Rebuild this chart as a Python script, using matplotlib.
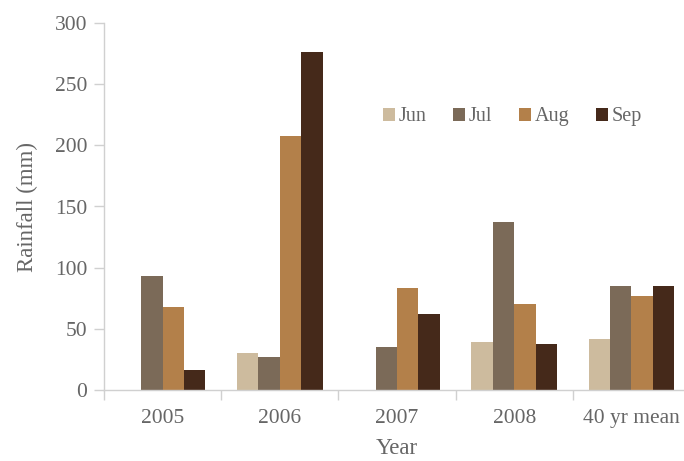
import numpy as np
import matplotlib.pyplot as plt

plt.rcParams['font.family'] = ['Liberation Serif', 'DejaVu Serif']

years = ["2005", "2006", "2007", "2008", "40 yr mean"]
months = ["Jun", "Jul", "Aug", "Sep"]
jun = [0, 30, 0, 39, 42]
jul = [93, 27, 35, 137, 85]
aug = [68, 208, 83, 70, 77]
sep = [16, 276, 62, 38, 85]

colors = ["#CDBB9E", "#7B6A58", "#B3804A", "#45291A"]
text_color = "#666666"
axis_color = "#D0D0D0"

fig = plt.figure(figsize=(6.84, 4.61), dpi=100)
ax = fig.add_axes([104 / 684, 71 / 461, 586 / 684, 367 / 461])

x = np.arange(len(years))
width = 0.183
for i, (name, vals) in enumerate(zip(months, [jun, jul, aug, sep])):
    ax.bar(x + (i - 1.5) * width, vals, width, color=colors[i], label=name, linewidth=0)

ax.set_xlim(-0.5, len(years) - 0.5)
ax.set_ylim(0, 300)
ax.set_yticks(range(0, 301, 50))
ax.set_xticks(x)
ax.set_xticklabels(years)
ax.set_xticks(np.arange(-0.5, len(years), 1.0), minor=True)

for side in ["top", "right"]:
    ax.spines[side].set_visible(False)
for side in ["left", "bottom"]:
    ax.spines[side].set_color(axis_color)
    ax.spines[side].set_linewidth(1.0)

ax.tick_params(axis="y", colors=axis_color, labelcolor=text_color, labelsize=15.5,
               length=7, width=1, pad=5)
ax.tick_params(axis="x", which="major", length=0, labelcolor=text_color, labelsize=15.5, pad=14)
ax.tick_params(axis="x", which="minor", length=7, width=1, color=axis_color)

ax.set_xlabel("Year", color=text_color, fontsize=16.5, labelpad=7)
ax.set_ylabel("Rainfall (mm)", color=text_color, fontsize=16.5, labelpad=12)

leg = ax.legend(loc="center", bbox_to_anchor=(0.697, 0.744), ncol=4, frameon=False,
                fontsize=14.5, handlelength=0.6, handleheight=0.6, handletextpad=0.2,
                columnspacing=1.3, labelcolor=text_color)

fig.savefig("out.png", dpi=100)
